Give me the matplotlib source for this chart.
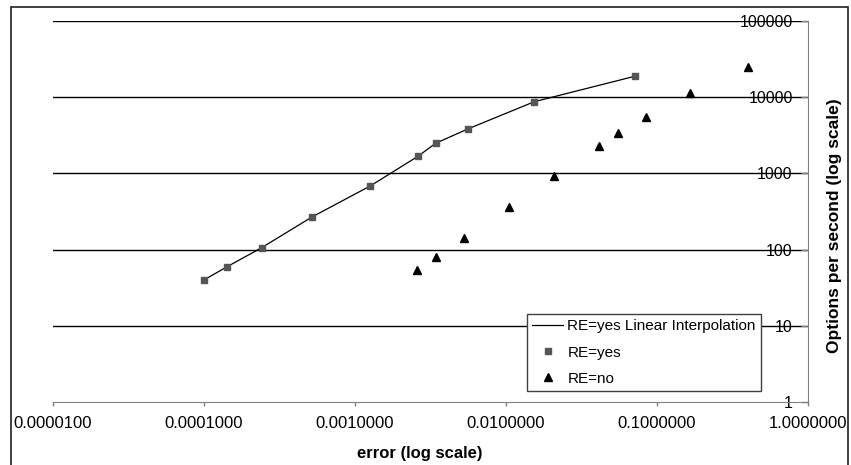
import matplotlib
matplotlib.use("Agg")
import matplotlib.pyplot as plt
from matplotlib.patches import Rectangle

plt.rcParams['font.family'] = ['Liberation Sans', 'DejaVu Sans']

# RE=yes (squares, also joined by the interpolation line)
re_yes_err = [1.0e-4, 1.43e-4, 2.41e-4, 5.19e-4, 1.26e-3, 2.61e-3, 3.42e-3, 5.58e-3, 0.0154, 0.0711]
re_yes_ops = [40, 60, 106, 268, 683, 1676, 2483, 3826, 8730, 18800]

# RE=no (triangles)
re_no_err = [2.58e-3, 3.45e-3, 5.25e-3, 0.0104, 0.0208, 0.0415, 0.0554, 0.0841, 0.1655, 0.401]
re_no_ops = [54, 80, 142, 366, 925, 2268, 3390, 5550, 11460, 25120]

x_ticks = [1e-5, 1e-4, 1e-3, 1e-2, 1e-1, 1]
y_ticks = [1, 10, 100, 1000, 10000, 100000]

W, H = 851, 465
fig = plt.figure(figsize=(W / 100, H / 100), dpi=100)
ax = fig.add_axes([53 / W, 1 - 402 / H, (808 - 53) / W, (402 - 21) / H])

ax.plot(re_yes_err, re_yes_ops, color='black', lw=0.9, label='RE=yes Linear Interpolation', zorder=3)
ax.plot(re_yes_err, re_yes_ops, ls='none', marker='s', ms=5, color='#555555', label='RE=yes', zorder=4)
ax.plot(re_no_err, re_no_ops, ls='none', marker='^', ms=6, color='black', label='RE=no', zorder=4)

ax.set_xscale('log')
ax.set_yscale('log')
ax.set_xlim(1e-5, 1)
ax.set_ylim(1, 100000)

ax.set_xticks(x_ticks)
ax.set_xticklabels(['%.7f' % v for v in x_ticks])
ax.set_yticks(y_ticks)
ax.set_yticklabels([str(v) for v in y_ticks])
ax.minorticks_off()

# horizontal gridlines at every decade
for v in y_ticks[1:]:
    ax.axhline(v, color='black', lw=1.0, zorder=1)

ax.spines['left'].set_visible(False)
ax.spines['top'].set_visible(False)
ax.spines['bottom'].set_color('#808080')
ax.spines['right'].set_color('#808080')

ax.yaxis.set_ticks_position('right')
ax.tick_params(axis='x', direction='out', length=3, width=1, color='#808080',
               labelsize=12, pad=7)
ax.tick_params(axis='y', direction='in', length=5, width=1, color='#808080',
               labelsize=11.5, pad=-11)
for lbl in ax.get_yticklabels():
    lbl.set_horizontalalignment('right')

fig.text(420 / W, 1 - 453 / H, 'error (log scale)', ha='center', va='center',
         fontsize=12, fontweight='bold')
fig.text(834 / W, 1 - 226 / H, 'Options per second (log scale)', ha='center', va='center',
         rotation=90, fontsize=12.5, fontweight='bold')

leg = ax.legend(loc='upper left', bbox_to_anchor=(527 / W, 1 - 314 / H),
                bbox_transform=fig.transFigure, fontsize=11, numpoints=1,
                frameon=True, fancybox=False, framealpha=1, edgecolor='#404040',
                borderpad=0.35, labelspacing=0.8, handlelength=2.0, handletextpad=0.3,
                borderaxespad=0)
leg.get_frame().set_linewidth(1.0)

# outer chart border
fig.patches.append(Rectangle((11 / W, -0.05), (848 - 11) / W, 1 - 7 / H + 0.05,
                             transform=fig.transFigure, fill=False,
                             edgecolor='#202020', lw=1.2))

fig.savefig('out.png', dpi=100)
